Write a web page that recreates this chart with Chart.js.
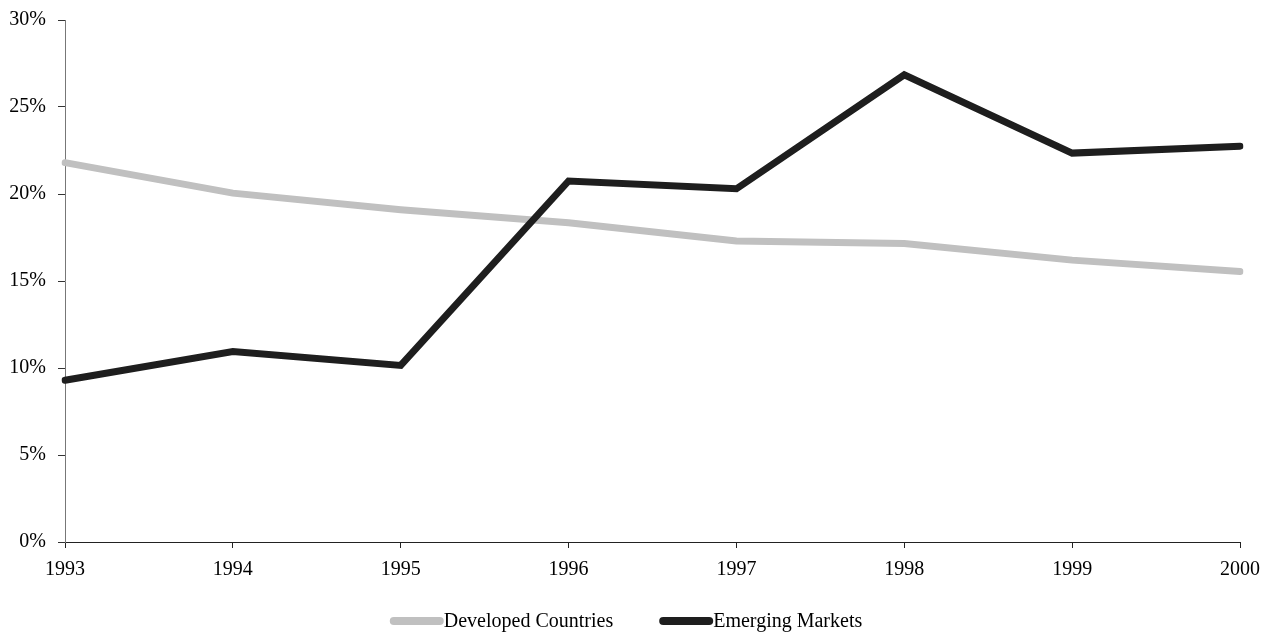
<!DOCTYPE html>
<html>
<head>
<meta charset="utf-8">
<script src="https://cdn.jsdelivr.net/npm/chart.js@4.4.1/dist/chart.umd.min.js"></script>
<style>
    html, body { margin: 0; padding: 0; background: #fff; }
    canvas { display: block; }
</style>
</head>
<body>
<canvas id="chart" width="1273" height="633"></canvas>
<script>
const years = ['1993', '1994', '1995', '1996', '1997', '1998', '1999', '2000'];
const developed = [21.8, 20.05, 19.1, 18.35, 17.3, 17.15, 16.2, 15.55];
const emerging = [9.3, 10.95, 10.15, 20.75, 20.3, 26.85, 22.35, 22.75];
const yTicks = [0, 5, 10, 15, 20, 25, 30];

const serif = '"Liberation Serif", "Times New Roman", serif';

// legend drawn by hand: short thick line + label, like the original
const lineLegend = {
    id: 'lineLegend',
    afterDraw(chart) {
        const ctx = chart.ctx;
        const sets = chart.data.datasets.slice().sort((a, b) => a.legendIndex - b.legendIndex);
        const lineLen = 54;
        const gap = 46;
        const y = 621;
        ctx.save();
        ctx.font = '20px ' + serif;
        let total = 0;
        sets.forEach((ds, i) => {
            total += lineLen + ctx.measureText(ds.label).width + (i > 0 ? gap : 0);
        });
        let x = 626 - total / 2;
        sets.forEach((ds) => {
            ctx.strokeStyle = ds.borderColor;
            ctx.lineWidth = 8;
            ctx.lineCap = 'round';
            ctx.beginPath();
            ctx.moveTo(x + 4, y);
            ctx.lineTo(x + lineLen - 4, y);
            ctx.stroke();
            ctx.fillStyle = '#000';
            ctx.textBaseline = 'middle';
            ctx.textAlign = 'left';
            ctx.fillText(ds.label, x + lineLen, y + 1);
            x += lineLen + ctx.measureText(ds.label).width + gap;
        });
        ctx.restore();
    }
};

const ctx = document.getElementById('chart').getContext('2d');
new Chart(ctx, {
    type: 'line',
    data: {
        labels: years,
        datasets: [
            {
                label: 'Developed Countries',
                legendIndex: 0,
                data: developed,
                borderColor: '#c0c0c0',
                borderWidth: 7,
                borderCapStyle: 'round',
                pointRadius: 0,
                tension: 0,
                order: 1
            },
            {
                label: 'Emerging Markets',
                legendIndex: 1,
                data: emerging,
                borderColor: '#1e1e1e',
                borderWidth: 7,
                borderCapStyle: 'round',
                pointRadius: 0,
                tension: 0,
                order: 0
            }
        ]
    },
    options: {
        responsive: false,
        animation: false,
        layout: {
            padding: { top: 20, right: 33, bottom: 41, left: 0 }
        },
        plugins: {
            legend: { display: false },
            tooltip: { enabled: false }
        },
        scales: {
            x: {
                offset: false,
                grid: {
                    drawOnChartArea: false,
                    tickLength: 6,
                    color: '#222'
                },
                border: { color: '#222', width: 1 },
                ticks: {
                    color: '#000',
                    padding: 10,
                    maxRotation: 0,
                    font: { family: serif, size: 20 }
                },
                afterFit(scale) { scale.height = 50; }
            },
            y: {
                min: 0,
                max: 30,
                afterBuildTicks(scale) {
                    scale.ticks = yTicks.map(v => ({ value: v }));
                },
                grid: {
                    drawOnChartArea: false,
                    tickLength: 7,
                    color: '#333'
                },
                border: { color: '#777', width: 1 },
                ticks: {
                    color: '#000',
                    padding: 12,
                    font: { family: serif, size: 20 },
                    callback: (v) => v + '%'
                },
                afterFit(scale) {
                    scale.width = 65;
                    scale.paddingTop = 0;
                    scale.paddingBottom = 0;
                }
            }
        }
    },
    plugins: [lineLegend]
});
</script>
</body>
</html>
